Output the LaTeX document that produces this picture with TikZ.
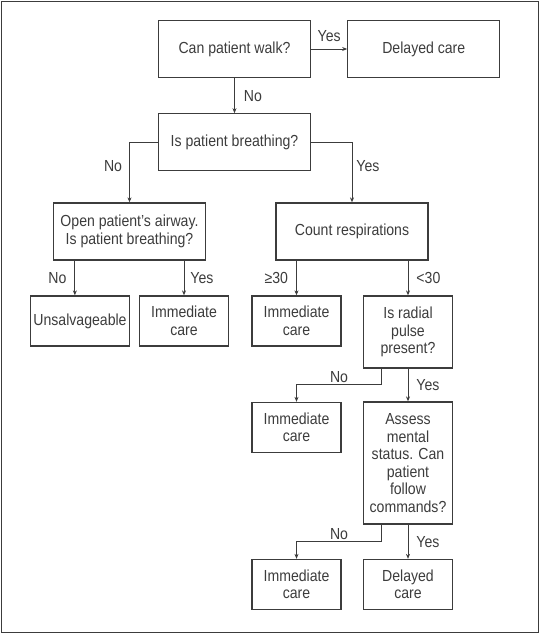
\documentclass[tikz,border=0pt]{standalone}
\usepackage{fontspec}
\setmainfont{Liberation Sans}[FakeStretch=0.88]
\usetikzlibrary{arrows.meta,positioning}
\definecolor{ink}{HTML}{3C3C3C}

\tikzset{
  box/.style={draw=ink,line width=1.3pt,text=ink,align=center,inner sep=2pt,font=\fontsize{16}{17.5}\selectfont},
  bigbox/.style={box,minimum width=152pt,minimum height=57pt},
  smallbox/.style={box,minimum width=89pt,minimum height=50pt},
  arr/.style={draw=ink,line width=0.9pt,-{Stealth[length=5pt,width=4pt]}},
  lbl/.style={text=ink,font=\fontsize{16}{17.5}\selectfont,inner sep=1pt}
}

\begin{document}
\begin{tikzpicture}[x=1pt,y=1pt]
    \useasboundingbox (0,0) rectangle (543,-635);
    \draw[ink,line width=1.8pt] (1.5,-1.5) rectangle (538.5,-632.5);

    \node[bigbox] (walk) at (234.5,-49) {Can patient walk?};
    \node[bigbox,right=36pt of walk] (delayed) {Delayed care};
    \node[bigbox,below=35pt of walk] (breath) {Is patient breathing?};
    \node[bigbox] (airway) at (129.5,-231.5) {Open patient’s airway.\\Is patient breathing?};
    \node[bigbox] (count) at (352,-231.5) {Count respirations};

    \node[smallbox,minimum width=99pt] (unsalv) at (80,-321) {Unsalvageable};
    \node[smallbox] (immA) at (184,-321) {Immediate\\care};
    \node[smallbox] (immB) at (296.5,-321) {Immediate\\care};
    \node[smallbox,minimum height=72pt] (radial) at (408,-332) {Is radial\\pulse\\present?};
    \node[smallbox] (immC) at (296.5,-427.5) {Immediate\\care};
    \node[smallbox,minimum height=122pt] (assess) at (408,-463) {Assess\\mental\\status. Can\\patient\\follow\\commands?};
    \node[smallbox] (immD) at (296.5,-584.5) {Immediate\\care};
    \node[smallbox] (delayedB) at (408,-584.5) {Delayed\\care};

    \coordinate (ua) at ([xshift=22pt]airway.south west);

    \draw[arr] (walk) -- node[lbl,above=6pt]{Yes} (delayed);
    \draw[arr] (walk) -- node[lbl,right=8pt]{No} (breath);
    \draw[arr] (breath.west) -| node[lbl,pos=0.7,left=6pt]{No} (airway.north);
    \draw[arr] (breath.east) -| node[lbl,pos=0.7,right=3pt]{Yes} (count.north);
    \draw[arr] (ua) -- node[lbl,left=7pt]{No} (ua |- unsalv.north);
    \draw[arr] (immA.north |- airway.south) -- node[lbl,right=5pt]{Yes} (immA.north);
    \draw[arr] (immB.north |- count.south) -- node[lbl,left=7pt]{≥30} (immB.north);
    \draw[arr] (radial.north |- count.south) -- node[lbl,right=7pt]{<30} (radial.north);
    \draw[arr] ([xshift=-26.5pt]radial.south) -- ++(0,-16) -| node[lbl,pos=0.25,above=1pt]{No} (immC.north);
    \draw[arr] (radial) -- node[lbl,right=7pt]{Yes} (assess);
    \draw[arr] ([xshift=-26.5pt]assess.south) -- ++(0,-17) -| node[lbl,pos=0.25,above=1pt]{No} (immD.north);
    \draw[arr] (assess) -- node[lbl,right=7pt]{Yes} (delayedB);
\end{tikzpicture}
\end{document}
